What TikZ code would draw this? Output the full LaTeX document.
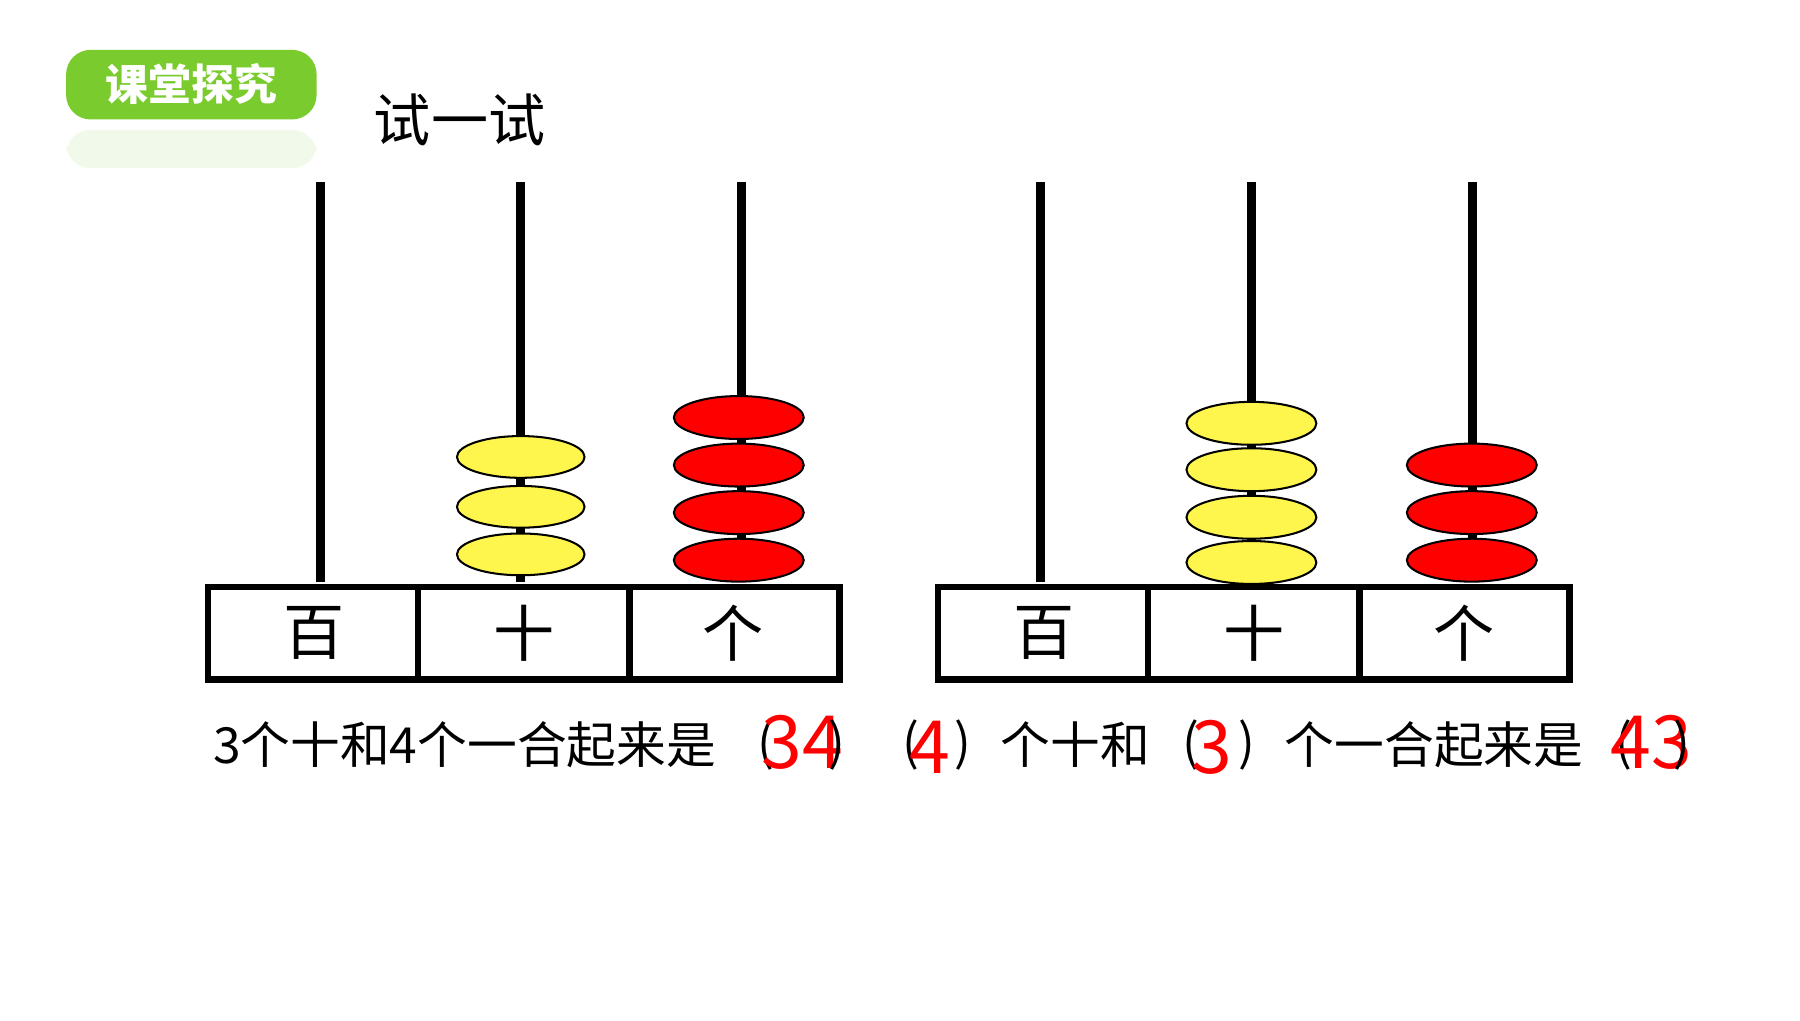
\documentclass[tikz,border=0pt]{standalone}
\usepackage{fontspec}
\setmainfont{Noto Sans CJK SC}
\usetikzlibrary{positioning}
\definecolor{badgegreen}{RGB}{122,204,46}
\tikzset{
  rod/.style={line width=2.2pt, black},
  ybead/.style={draw=black, fill=yellow!70!white, line width=0.5pt},
  rbead/.style={draw=black, fill=red, line width=0.5pt},
  cell/.style={minimum width=1.81cm, minimum height=0.78cm, inner sep=0pt, font=\fontsize{15}{15}\selectfont},
  frame/.style={draw=black, line width=1.6pt},
  ans/.style={text=red, font=\fontsize{18}{18}\selectfont, inner sep=0pt},
  line/.style={font=\fontsize{12.2}{12}\selectfont, inner sep=0pt},
  par/.style={font=\fontsize{12.2}{12}\selectfont, inner sep=0pt}
}
\begin{document}
\begin{tikzpicture}[x=0.01cm, y=-0.01cm]
        \useasboundingbox (0,0) rectangle (1552,880);
        % badge
        \fill [badgegreen, rounded corners=6pt] (57,43) rectangle (273,103);
        \fill [badgegreen, opacity=0.1, rounded corners=6pt] (57,112) rectangle (273,145);
        \node [text=white, font=\fontsize{10.5}{11}\selectfont\bfseries] (badge) at (165,72) {课堂探究};
        \node [font=\fontsize{14}{14}\selectfont, anchor=west] (title) at (310,103) {试一试};
        % left abacus
        \node [cell] (lb) at (270.5,546) {百};
        \node [cell] (ls) at (451.5,546) {十};
        \node [cell] (lg) at (632.5,546) {个};
        \draw [frame] (lb.north west) rectangle (lg.south east);
        \draw [frame] (ls.north west) -- (ls.south west) (ls.north east) -- (ls.south east);
        \coordinate (lrb) at (276,157); \coordinate (lrs) at (449,157); \coordinate (lrg) at (639,157);
        \draw [rod] (lrb) -- (276,502);
        \draw [rod] (lrs) -- (449,502);
        \draw [rod] (lrg) -- (639,502);
        \foreach \y in {394,437,478} \draw [ybead] (449,\y) ellipse (55 and 18);
        \foreach \y in {360,401,442,483} \draw [rbead] (637,\y) ellipse (56 and 18.5);
        % right abacus
        \node [cell] (rb) at (900,546) {百};
        \node [cell] (rs) at (1081,546) {十};
        \node [cell] (rg) at (1262,546) {个};
        \draw [frame] (rb.north west) rectangle (rg.south east);
        \draw [frame] (rs.north west) -- (rs.south west) (rs.north east) -- (rs.south east);
        \coordinate (rrb) at (897,157); \coordinate (rrs) at (1079,157); \coordinate (rrg) at (1270,157);
        \draw [rod] (rrb) -- (897,502);
        \draw [rod] (rrs) -- (1079,502);
        \draw [rod] (rrg) -- (1270,502);
        \foreach \y in {365,405,446,485} \draw [ybead] (1079,\y) ellipse (56 and 18.5);
        \foreach \y in {401,442,483} \draw [rbead] (1269,\y) ellipse (56 and 18.5);
        % sentences
        \node [line, anchor=west] (s1) at (183,642) {3个十和4个一合起来是};
        \node [par] (p1) at (660,642) {(};
        \node [ans] (a1) at (692,640) {34};
        \node [par] (q1) at (722,642) {)};
        \node [par] (p2) at (785,642) {(};
        \node [ans] (a2) at (802,644) {4};
        \node [par] (q2) at (830,642) {)};
        \node [line, anchor=west] (s2) at (862,642) {个十和};
        \node [par] (p3) at (1027,642) {(};
        \node [ans] (a3) at (1045,644) {3};
        \node [par] (q3) at (1075,642) {)};
        \node [line, anchor=west] (s3) at (1107,642) {个一合起来是};
        \node [par] (p4) at (1400,642) {(};
        \node [ans] (a4) at (1424,640) {43};
        \node [par] (q4) at (1450,642) {)};
\end{tikzpicture}
\end{document}
